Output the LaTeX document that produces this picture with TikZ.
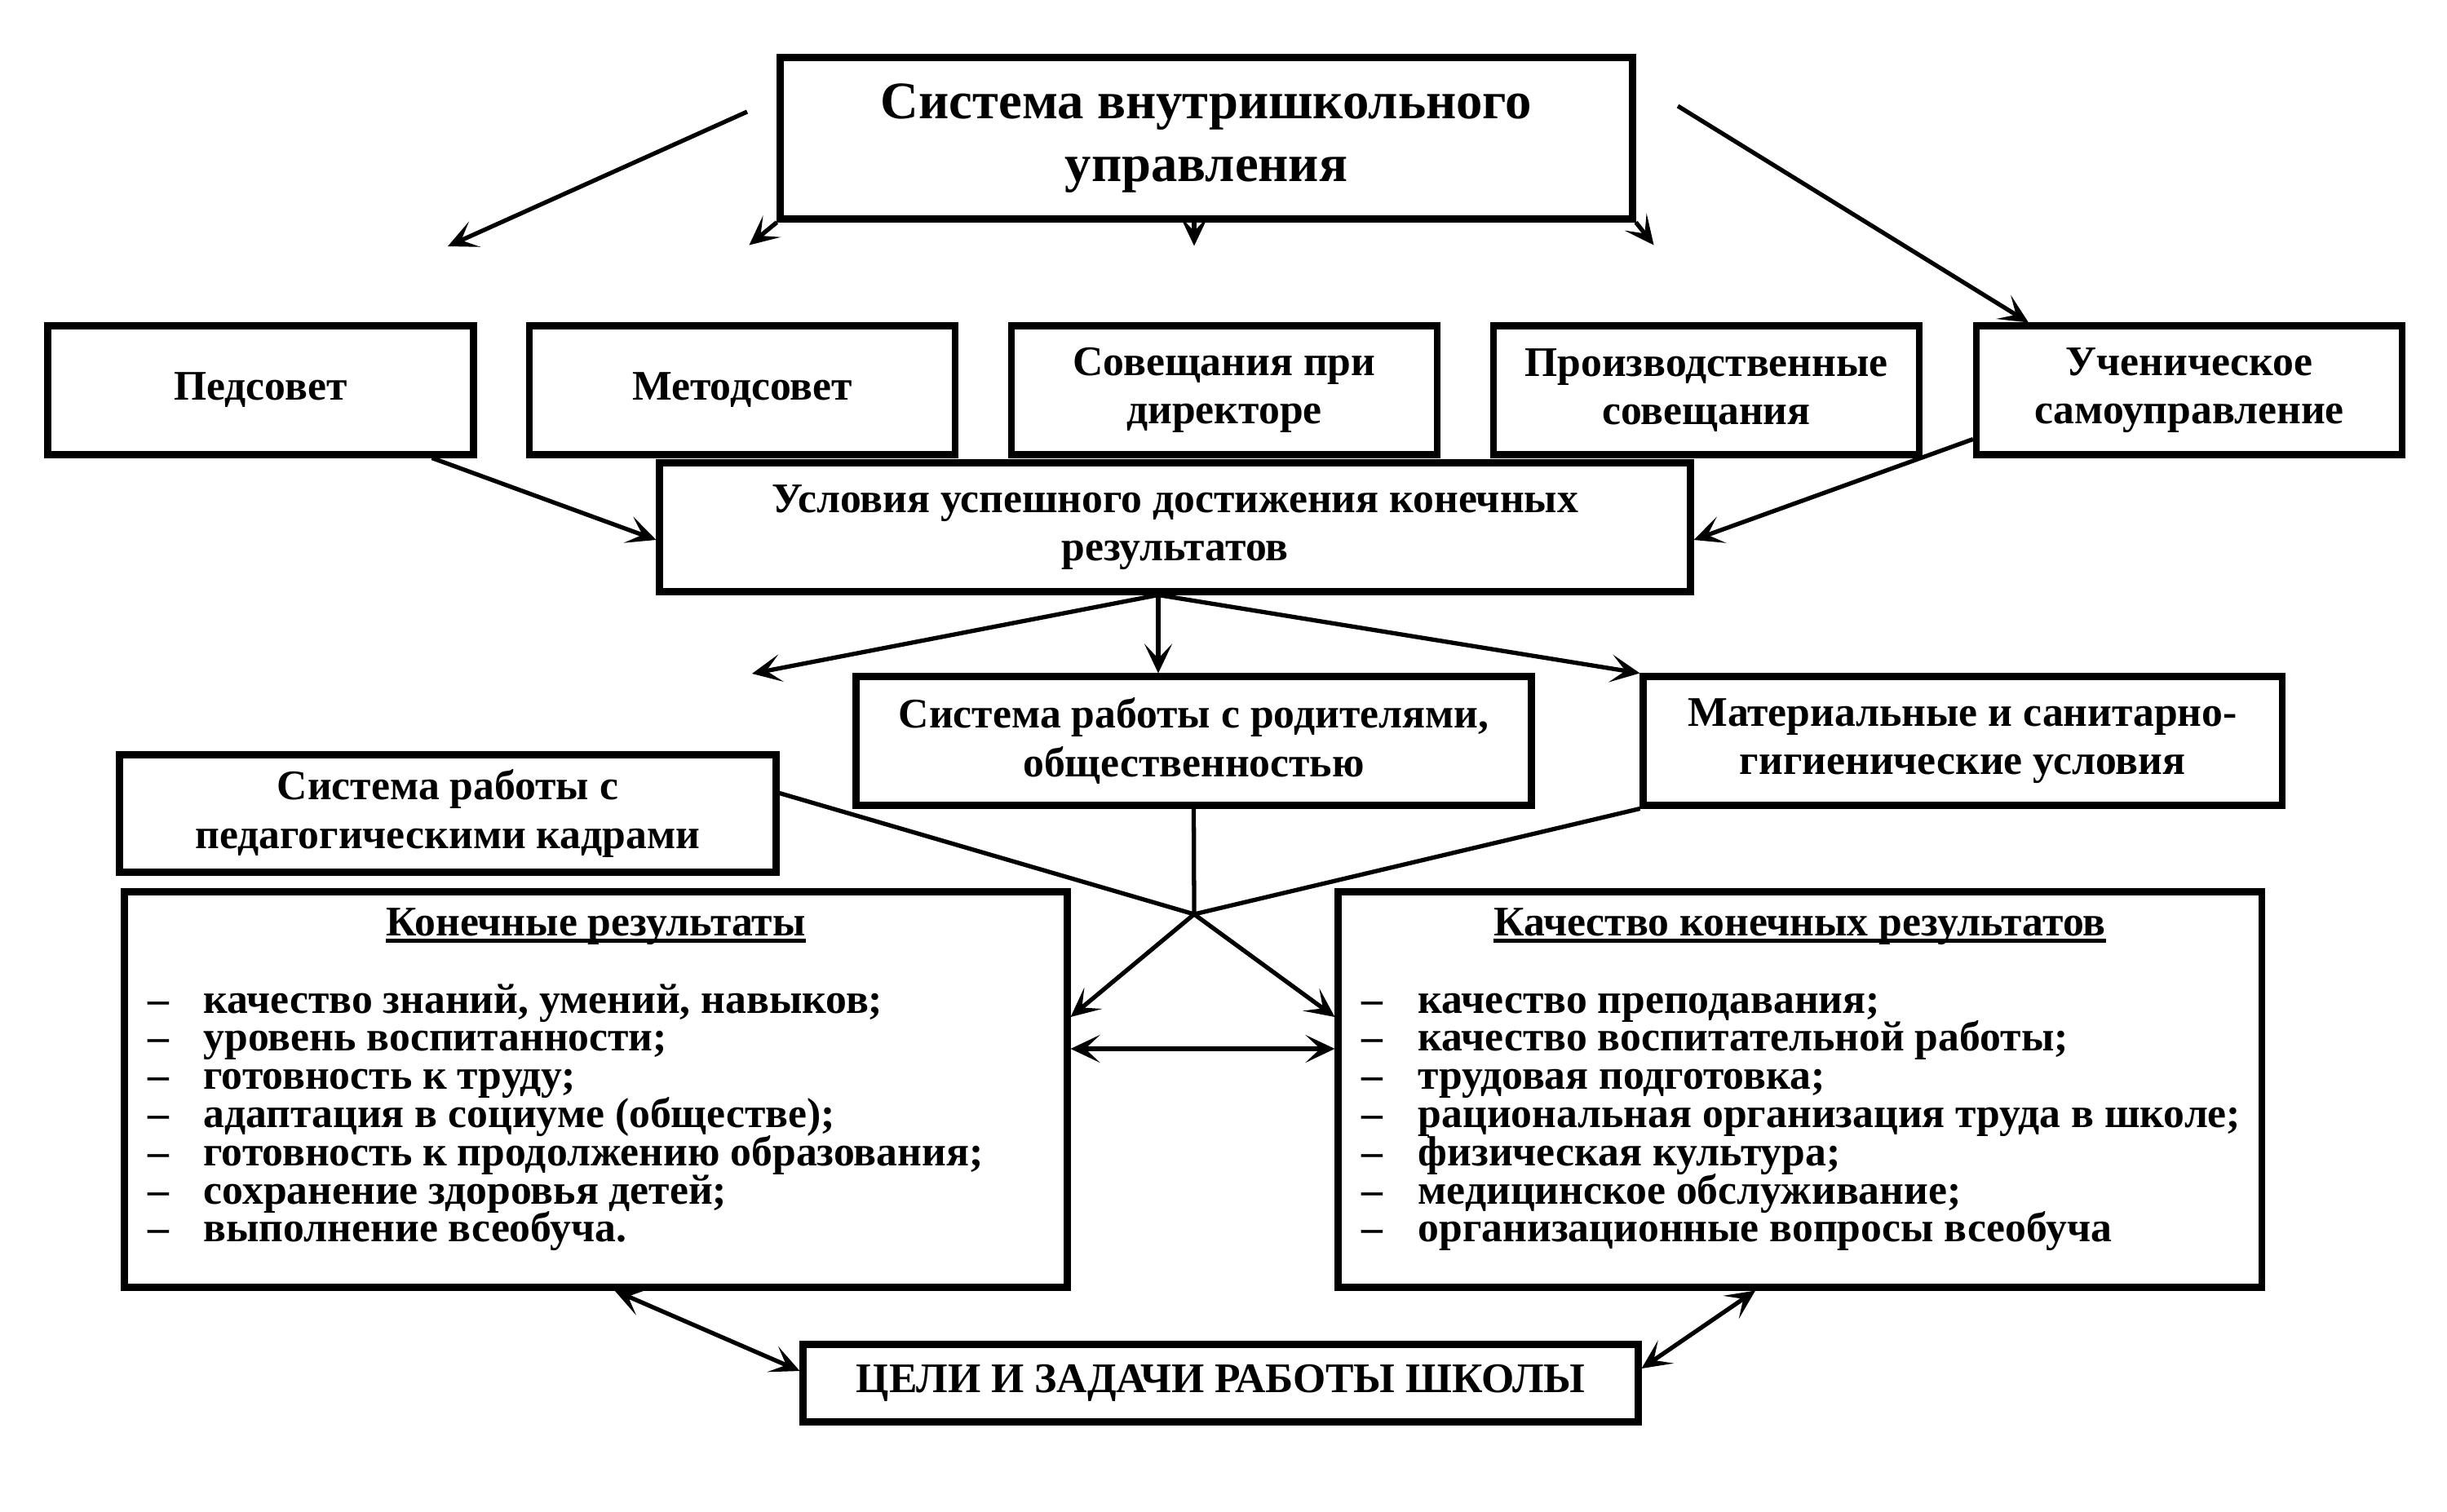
\documentclass[tikz,border=0pt]{standalone}
\usepackage{fontspec}
\setmainfont{Liberation Serif}
\usetikzlibrary{arrows.meta,calc}

\begin{document}
\begin{tikzpicture}[
  box/.style={draw, line width=2.3pt, align=center, inner sep=2pt,
    font=\fontsize{14.7}{16.8}\selectfont\bfseries},
  arr/.style={-{Stealth[length=3.6mm,width=3.4mm,inset=1.8mm]}, line width=1.5pt},
  darr/.style={{Stealth[length=3.6mm,width=3.4mm,inset=1.8mm]}-{Stealth[length=3.6mm,width=3.4mm,inset=1.8mm]}, line width=1.5pt},
  item/.style={anchor=base west, inner sep=0pt, font=\fontsize{14.7}{13.3}\selectfont\bfseries}
]
  \useasboundingbox (0,0) rectangle (30,-18.54);

  % Top box
  \node[box, minimum width=10.45cm, minimum height=1.98cm,
    font=\fontsize{18.4}{22}\selectfont\bfseries] (top) at (14.79,-1.695)
    {Система внутришкольного\\управления};

  % Second row of boxes
  \node[box, minimum width=5.22cm, minimum height=1.58cm] (ped) at (3.195,-4.785) {Педсовет};
  \node[box, minimum width=5.22cm, minimum height=1.58cm] (met) at (9.10,-4.785) {Методсовет};
  \node[box, minimum width=5.22cm, minimum height=1.58cm] (sov) at (15.01,-4.785) {Совещания при\\директоре};
  \node[box, minimum width=5.22cm, minimum height=1.58cm] (pro) at (20.92,-4.785) {Производственные\\совещания};
  \node[box, minimum width=5.22cm, minimum height=1.58cm] (uch) at (26.84,-4.785) {Ученическое\\самоуправление};

  % Conditions box
  \node[box, minimum width=12.64cm, minimum height=1.58cm] (usl) at (14.405,-6.465)
    {Условия успешного достижения конечных\\результатов};

  % Third row of boxes
  \node[box, minimum width=8.28cm, minimum height=1.58cm] (rod) at (14.635,-9.085)
    {Система работы с родителями,\\общественностью};
  \node[box, minimum width=7.83cm, minimum height=1.58cm] (mat) at (24.06,-9.085)
    {Материальные и санитарно-\\гигиенические условия};
  \node[box, minimum width=8.05cm, minimum height=1.44cm] (kadr) at (5.49,-9.975)
    {Система работы с\\педагогическими кадрами};

  % Result boxes
  \node[box, minimum width=11.56cm, minimum height=4.85cm] (kon) at (7.305,-13.36) {};
  \node[box, minimum width=11.32cm, minimum height=4.85cm] (kach) at (22.065,-13.36) {};

  % Goals box
  \node[box, minimum width=10.24cm, minimum height=0.95cm] (celi) at (14.965,-16.96)
    {ЦЕЛИ И ЗАДАЧИ РАБОТЫ ШКОЛЫ};

  % Headings of the result boxes
  \node[item, anchor=base] (konh) at (7.305,-11.47) {Конечные результаты};
  \node[item, anchor=base] (kachh) at (22.065,-11.47) {Качество конечных результатов};
  \draw[line width=1.3pt] ([yshift=-1.8pt]konh.base west) -- ([yshift=-1.8pt]konh.base east);
  \draw[line width=1.3pt] ([yshift=-1.8pt]kachh.base west) -- ([yshift=-1.8pt]kachh.base east);

  % Lists
  \foreach \t [count=\i from 0] in {{качество знаний, умений, навыков;},
      уровень воспитанности;, готовность к труду;,
      адаптация в социуме (обществе);, готовность к продолжению образования;,
      сохранение здоровья детей;, выполнение всеобуча.} {
    \node[item] (konl\i) at (1.81,-12.42-0.468*\i) {–};
    \node[item] at (2.49,-12.42-0.468*\i) {\t};
  }
  \foreach \t [count=\i from 0] in {качество преподавания;,
      качество воспитательной работы;, трудовая подготовка;,
      рациональная организация труда в школе;, физическая культура;,
      медицинское обслуживание;, организационные вопросы всеобуча} {
    \node[item] (kachl\i) at (16.69,-12.42-0.468*\i) {–};
    \node[item] at (17.38,-12.42-0.468*\i) {\t};
  }

  % Free ends of the arrows
  \coordinate (L1) at (9.16,-1.37);
  \coordinate (L1e) at (5.49,-3.02);
  \coordinate (R1) at (20.57,-1.30);
  \coordinate (s1) at ($(top.south west)+(-0.34,-0.28)$);
  \coordinate (s2) at ($(top.south)+(-0.15,-0.29)$);
  \coordinate (s3) at ($(top.south east)+(0.22,-0.28)$);
  \coordinate (F) at (14.2,0 |- usl.south);
  \coordinate (Fl) at (9.22,-8.26);
  \coordinate (X) at (14.64,-11.21);

  % Arrows from the top box
  \draw[arr] (L1) -- (L1e);
  \draw[arr] (R1) -- ([xshift=0.68cm]uch.north west);
  \draw[arr] (top.south west) -- (s1);
  \draw[arr] ([xshift=-0.15cm]top.south) -- (s2);
  \draw[arr] (top.south east) -- (s3);

  % Arrows into the conditions box
  \draw[arr] ([xshift=-0.55cm]ped.south east) -- ([yshift=-0.155cm]usl.west);
  \draw[arr] ([yshift=-0.6cm]uch.west) -- ([yshift=-0.155cm]usl.east);

  % Fan out of the conditions box
  \draw[arr] (F) -- (Fl);
  \draw[arr] (F) -- (14.2,0 |- rod.north);
  \draw[arr] (F) -- (mat.north west);

  % Crossing lines
  \draw[line width=1.5pt] ([yshift=0.25cm]kadr.east) -- (X);
  \draw[line width=1.5pt] (rod.south) -- (X);
  \draw[line width=1.5pt] (mat.south west) -- (X);
  \draw[arr] (X) -- ([yshift=0.89cm]kon.east);
  \draw[arr] (X) -- ([yshift=0.89cm]kach.west);
  \draw[darr] ([yshift=0.5cm]kon.east) -- ([yshift=0.5cm]kach.west);

  % Arrows to the goals box
  \draw[darr] ([xshift=0.23cm]kon.south) -- ([yshift=0.15cm]celi.west);
  \draw[darr] ([xshift=-0.545cm]kach.south) -- ([yshift=0.18cm]celi.east);

\end{tikzpicture}
\end{document}
